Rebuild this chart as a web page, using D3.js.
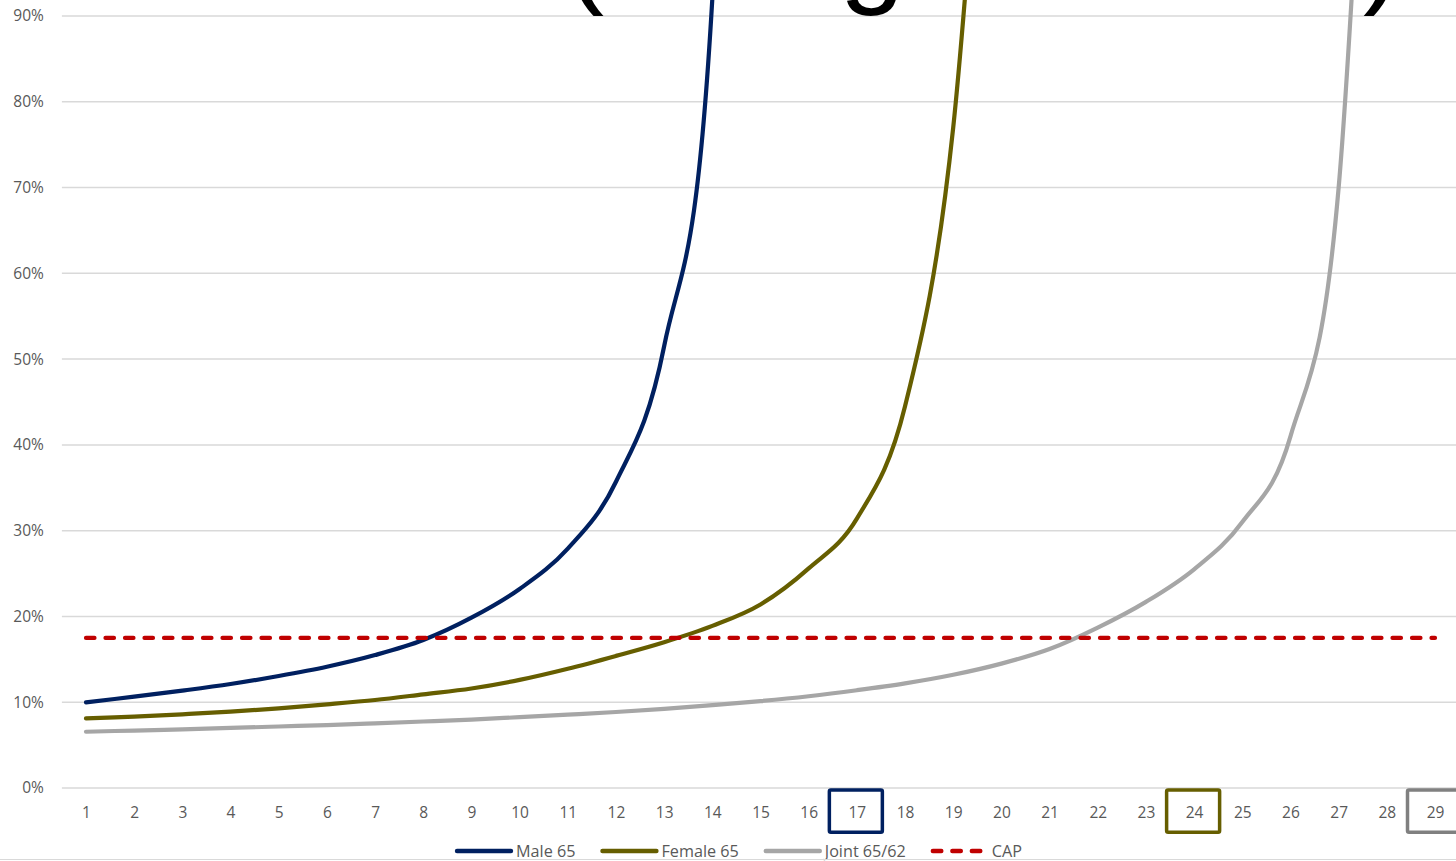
<!DOCTYPE html>
<html>
<head>
<meta charset="utf-8">
<script src="https://cdn.jsdelivr.net/npm/d3@7"></script>
<style>
  html, body { margin: 0; padding: 0; background: #ffffff; overflow: hidden; }
  svg { display: block; }
</style>
</head>
<body>
<svg id="chart" width="1456" height="861"></svg>
<script>
// ---------------- data ----------------
const categories = [1, 2, 3, 4, 5, 6, 7, 8, 9, 10, 11, 12, 13, 14, 15, 16, 17, 18, 19, 20, 21, 22, 23, 24, 25, 26, 27, 28, 29];
const yTicks = [0, 0.1, 0.2, 0.3, 0.4, 0.5, 0.6, 0.7, 0.8, 0.9];

const male65 = [0.0999, 0.1065, 0.1135, 0.1212, 0.1306, 0.1414, 0.155, 0.1725, 0.1985, 0.232, 0.279, 0.357, 0.515, 0.92, 2.44];
const female65 = [0.0812, 0.0831, 0.0859, 0.089, 0.0929, 0.0975, 0.1026, 0.1092, 0.116, 0.126, 0.139, 0.154, 0.17, 0.189, 0.214, 0.256, 0.314, 0.445, 0.77, 1.5];
const joint6562 = [0.0656, 0.067, 0.0684, 0.07, 0.0717, 0.0734, 0.0754, 0.0775, 0.0798, 0.0826, 0.0855, 0.0886, 0.0923, 0.0966, 0.1013, 0.107, 0.114, 0.122, 0.132, 0.145, 0.162, 0.187, 0.217, 0.255, 0.31, 0.41, 0.70, 1.70];
const cap = [0.175, 0.175, 0.175, 0.175, 0.175, 0.175, 0.175, 0.175, 0.175, 0.175, 0.175, 0.175, 0.175, 0.175, 0.175, 0.175, 0.175, 0.175, 0.175, 0.175, 0.175, 0.175, 0.175, 0.175, 0.175, 0.175, 0.175, 0.175, 0.175];

const seriesNames = ["Male 65", "Female 65", "Joint 65/62", "CAP"];
const highlightedYears = [17, 24, 29];
const titleMain = "(Using Interest";
const titleClose = ")";

// ---------------- styles ----------------
const colors = { "Male 65": "#002060", "Female 65": "#665e00", "Joint 65/62": "#a6a6a6", "CAP": "#c00000" };
const boxColors = ["#002060", "#665e00", "#808080"];
const textColor = "#595959";
const gridColor = "#d9d9d9";
const FONT = "'Open Sans', 'Noto Sans', sans-serif";

const series = [
  { name: "Male 65", values: male65 },
  { name: "Female 65", values: female65 },
  { name: "Joint 65/62", values: joint6562 },
  { name: "CAP", values: cap }
];

// ---------------- layout ----------------
const svg = d3.select("#chart");
const plotLeft = 61.9, plotRight = 1459.1, y0 = 788, y100 = -69.8;

const x = d3.scalePoint().domain(categories).range([plotLeft, plotRight]).padding(0.5);
const y = d3.scaleLinear().domain([0, 1]).range([y0, y100]);

// gridlines
svg.append("g").selectAll("line").data(yTicks).join("line")
  .attr("x1", plotLeft).attr("x2", plotRight)
  .attr("y1", d => y(d)).attr("y2", d => y(d))
  .attr("stroke", gridColor).attr("stroke-width", 1.5);

// y axis
const yAxis = svg.append("g").attr("transform", `translate(${plotLeft},0)`)
  .call(d3.axisLeft(y).tickValues(yTicks).tickFormat(d3.format(".0%")).tickSize(0).tickPadding(18));
yAxis.select(".domain").remove();
yAxis.selectAll("text").attr("fill", textColor).style("font-family", FONT).style("font-size", "15.5px");

// x axis
const xAxis = svg.append("g").attr("transform", `translate(0,${y0})`)
  .call(d3.axisBottom(x).tickSize(0).tickPadding(18.5));
xAxis.select(".domain").remove();
xAxis.selectAll("text").attr("fill", textColor).style("font-family", FONT).style("font-size", "15.5px");

// highlight boxes around selected years
svg.append("g").selectAll("rect").data(highlightedYears).join("rect")
  .attr("x", d => x(d) - 27.5).attr("width", 53)
  .attr("y", y0 + 2).attr("height", 42.3)
  .attr("rx", 1.5)
  .attr("fill", "none")
  .attr("stroke", (d, i) => boxColors[i])
  .attr("stroke-width", 3.5);

// lines
const smooth = d3.line()
  .x((d, i) => x(categories[i]))
  .y(d => y(d))
  .curve(d3.curveCardinal.tension(0));
const straight = d3.line()
  .x((d, i) => x(categories[i]))
  .y(d => y(d));

const lineG = svg.append("g");
series.forEach(s => {
  const p = lineG.append("path")
    .attr("d", s.name === "CAP" ? straight(s.values) : smooth(s.values))
    .attr("fill", "none")
    .attr("stroke", colors[s.name])
    .attr("stroke-width", s.name === "CAP" ? 4.2 : 4.2)
    .attr("stroke-linejoin", "round")
    .attr("stroke-linecap", "round");
  if (s.name === "CAP") p.attr("stroke-dasharray", "8.5,11");
});

// legend
const legend = svg.append("g").attr("transform", "translate(0,851)");
let lx = 457;
seriesNames.forEach(name => {
  const ln = legend.append("line")
    .attr("x1", lx).attr("x2", lx + 54).attr("y1", 0).attr("y2", 0)
    .attr("stroke", colors[name]).attr("stroke-width", 4.4)
    .attr("stroke-linecap", "round");
  if (name === "CAP") ln.attr("stroke-dasharray", "8.5,11");
  const t = legend.append("text")
    .attr("x", lx + 59).attr("y", 0).attr("dy", "0.35em")
    .attr("fill", textColor)
    .style("font-family", FONT).style("font-size", "16.2px")
    .text(name);
  lx = lx + 59 + t.node().getComputedTextLength() + 27;
});

// bottom border of chart area
svg.append("line").attr("x1", 0).attr("x2", 1456).attr("y1", 859.5).attr("y2", 859.5)
  .attr("stroke", gridColor).attr("stroke-width", 1.2);

// title (mostly above the visible area, as in the reference crop)
const title = svg.append("text")
  .attr("x", 565).attr("y", -8)
  .attr("fill", "#000000")
  .style("font-family", "'Liberation Sans', Arial, sans-serif")
  .style("font-size", "117.6px");
title.append("tspan").text(titleMain);
title.append("tspan").attr("x", 1363).text(titleClose);
</script>
</body>
</html>
